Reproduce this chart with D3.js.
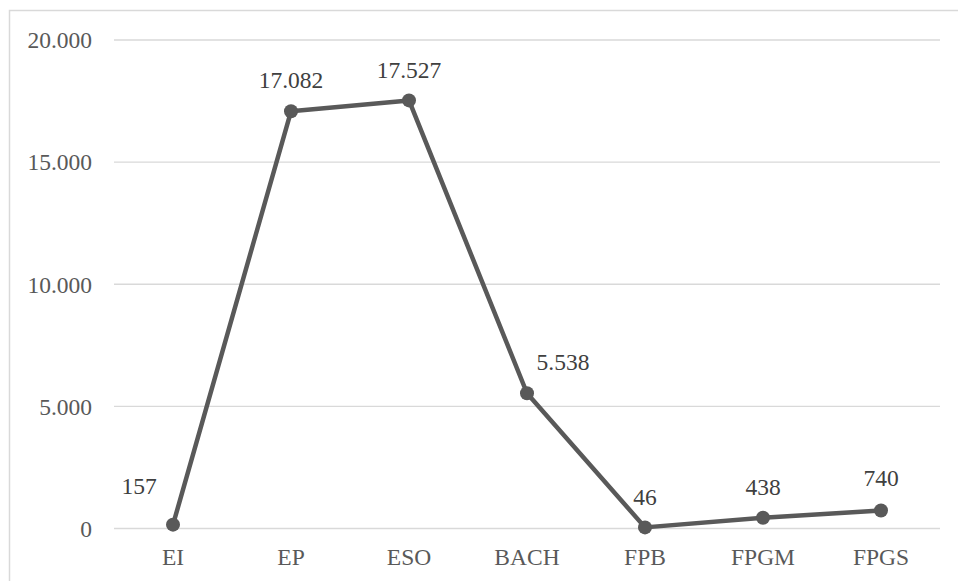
<!DOCTYPE html>
<html>
<head>
<meta charset="utf-8">
<script src="https://cdn.jsdelivr.net/npm/d3@7"></script>
<style>
  html, body { margin: 0; padding: 0; background: #fff; }
  svg { display: block; }
</style>
</head>
<body>
<svg id="chart" width="958" height="581"></svg>
<script>
const categories = ["EI", "EP", "ESO", "BACH", "FPB", "FPGM", "FPGS"];
const values = [157, 17082, 17527, 5538, 46, 438, 740];
const yTicks = [0, 5000, 10000, 15000, 20000];
const valueLabels = ["157", "17.082", "17.527", "5.538", "46", "438", "740"];

// label placement tweaks (relative to the point), mimicking the reference
const labelOffsets = {
  EI: [-34, -31], EP: [0, -23], ESO: [0, -22], BACH: [36, -23],
  FPB: [0, -22], FPGM: [0, -23], FPGS: [0, -24]
};

const svg = d3.select("#chart");
const font = "Liberation Serif, Times New Roman, serif";
const textColor = "#595959";

// outer border (cut off at right/bottom as in the reference)
svg.append("rect")
  .attr("x", 9.5).attr("y", 10.5)
  .attr("width", 1200).attr("height", 1200)
  .attr("fill", "none").attr("stroke", "#d9d9d9").attr("stroke-width", 1.5);

const plotLeft = 114, plotRight = 940;
const x = d3.scaleBand().domain(categories).range([plotLeft, plotRight]);
const y = d3.scaleLinear().domain([0, 20000]).range([528.5, 40]);

const fmt = d => d3.format(",")(d).replace(/,/g, ".");

// gridlines
svg.append("g").selectAll("line").data(yTicks).join("line")
  .attr("x1", plotLeft).attr("x2", plotRight)
  .attr("y1", d => y(d)).attr("y2", d => y(d))
  .attr("stroke", "#d9d9d9").attr("stroke-width", 1.3);

// y axis labels
const yAxis = d3.axisLeft(y).tickValues(yTicks).tickFormat(fmt).tickSize(0).tickPadding(0);
const yg = svg.append("g").attr("transform", "translate(92,0)").call(yAxis)
  .attr("font-family", font).attr("font-size", 23.5);
yg.select(".domain").remove();
yg.selectAll("text")
  .attr("fill", textColor)
  .attr("dy", "0.33em");

// x axis labels
const xAxis = d3.axisBottom(x).tickSize(0).tickPadding(0);
const xg = svg.append("g").attr("transform", "translate(0,565)").call(xAxis)
  .attr("font-family", font).attr("font-size", 23.5);
xg.select(".domain").remove();
xg.selectAll("text")
  .attr("fill", textColor)
  .attr("dy", 0).attr("y", 0);

const cx = d => x(d) + x.bandwidth() / 2;
const data = categories.map((c, i) => ({ c, v: values[i], l: valueLabels[i] }));

// line
svg.append("path").datum(data)
  .attr("d", d3.line().x(d => cx(d.c)).y(d => y(d.v)))
  .attr("fill", "none").attr("stroke", "#595959").attr("stroke-width", 4.5)
  .attr("stroke-linejoin", "round");

// markers
svg.append("g").selectAll("circle").data(data).join("circle")
  .attr("cx", d => cx(d.c)).attr("cy", d => y(d.v)).attr("r", 7)
  .attr("fill", "#595959");

// data labels
svg.append("g").attr("font-family", font).attr("font-size", 23.5)
  .selectAll("text").data(data).join("text")
  .attr("x", d => cx(d.c) + labelOffsets[d.c][0])
  .attr("y", d => y(d.v) + labelOffsets[d.c][1])
  .attr("text-anchor", "middle")
  .attr("fill", "#404040")
  .text(d => d.l);
</script>
</body>
</html>
